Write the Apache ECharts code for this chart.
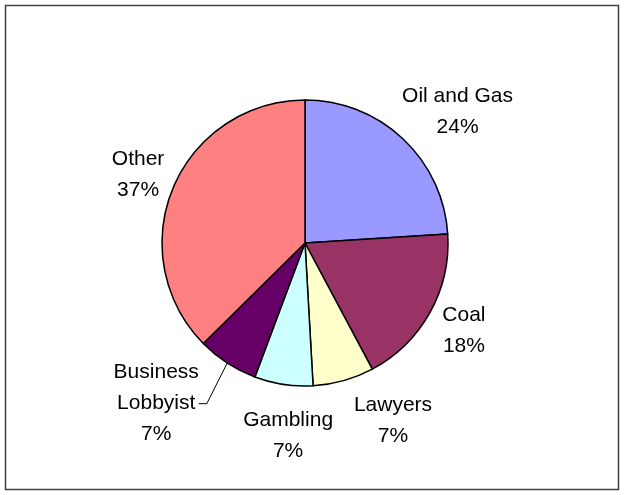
<!DOCTYPE html>
<html>
<head>
<meta charset="utf-8">
<script src="https://cdn.jsdelivr.net/npm/echarts@6/dist/echarts.min.js"></script>
<style>
html,body{margin:0;padding:0;background:#fff;}
#c{width:624px;height:495px;}
</style>
</head>
<body>
<div id="c"></div>
<script>
// Data
var categories = ['Oil and Gas', 'Coal', 'Lawyers', 'Gambling', 'Business\nLobbyist', 'Other'];
var values = [24.0, 18.2, 6.9, 6.6, 6.9, 37.4];
var colors = ['#9999FF', '#993366', '#FFFFCC', '#CCFFFF', '#660066', '#FF8080'];

// Layout constants
var CX = 305, CY = 243, R = 143;
// label placement: angle (deg clockwise from top) and distance from centre
var labelAngle = [49.2, 119.0, 153.7, 185.0, 222.8, 292.2];
var labelDist  = [201.5, 181.7, 198.6, 193.7, 219.0, 180.3];

var chart = echarts.init(document.getElementById('c'), null, {renderer: 'canvas'});

var data = categories.map(function (c, i) {
  return {
    name: c,
    value: values[i],
    itemStyle: {color: colors[i]},
    labelLine: {show: i === 4, length: 20, length2: 8}
  };
});

chart.setOption({
  animation: false,
  backgroundColor: '#ffffff',
  graphic: [{
    type: 'rect',
    shape: {x: 5.5, y: 5.5, width: 613, height: 484},
    style: {fill: 'none', stroke: '#404040', lineWidth: 1.5},
    silent: true
  }],
  series: [{
    type: 'pie',
    center: [CX, CY],
    radius: R,
    startAngle: 90,
    clockwise: true,
    data: data,
    itemStyle: {borderColor: '#000', borderWidth: 1.5},
    emphasis: {disabled: true},
    label: {
      show: true,
      position: 'outside',
      formatter: function (p) { return p.name + '\n' + Math.round(p.percent) + '%'; },
      fontFamily: 'Liberation Sans, Arial, sans-serif',
      fontSize: 21,
      lineHeight: 31,
      color: '#000',
      align: 'center'
    },
    labelLine: {lineStyle: {color: '#000', width: 1}},
    labelLayout: function (p) {
      var i = p.dataIndex;
      var a = labelAngle[i] * Math.PI / 180;
      return {
        x: CX + labelDist[i] * Math.sin(a),
        y: CY - labelDist[i] * Math.cos(a),
        align: 'center',
        verticalAlign: 'middle'
      };
    }
  }]
});
</script>
</body>
</html>
